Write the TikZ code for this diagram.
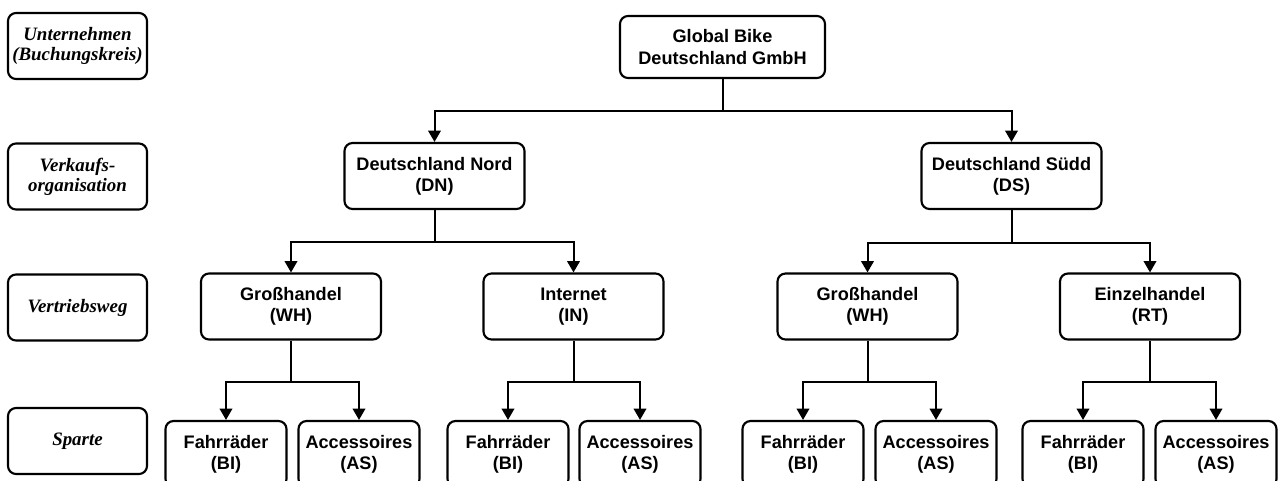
\documentclass[tikz,border=0pt]{standalone}
\usepackage{fontspec}
\setmainfont{Liberation Serif}
\setsansfont{Liberation Sans}
\usetikzlibrary{arrows.meta}
\begin{document}
\begin{tikzpicture}[x=0.75pt,y=-0.75pt,
  box/.style={draw=black,line width=1.6pt,rounded corners=6pt,inner sep=0pt,align=center,
    font=\sffamily\bfseries\fontsize{13.6}{16}\selectfont},
  lvl/.style={draw=black,line width=1.6pt,rounded corners=6pt,inner sep=0pt,align=center,
    minimum width=104.25pt,minimum height=49.5pt,
    font=\rmfamily\bfseries\itshape\fontsize{14.2}{15}\selectfont},
  mid/.style={box,minimum width=135pt,minimum height=49.5pt},
  leaf/.style={box,minimum width=90.75pt,minimum height=49.5pt},
  conn/.style={line width=1.5pt},
  arr/.style={conn,-{Triangle[width=9.4pt,length=8.5pt]}}]
\useasboundingbox (0,0) rectangle (1279,480);
\fill[white] (0,0) rectangle (1279,480);
\clip (0,0) rectangle (1279,480);
% level labels
\node[lvl] (L1) at (77.5,46) {Unternehmen\\(Buchungskreis)};
\node[lvl] (L2) at (77.5,176.5) {Verkaufs-\\organisation};
\node[lvl] (L3) at (77.5,307.5) {Vertriebsweg};
\node[lvl] (L4) at (77.5,441) {Sparte};
% company
\node[box,minimum width=153.75pt,minimum height=46.5pt] (G) at (722.5,47) {Global Bike\\Deutschland GmbH};
% sales organisations
\node[mid] (DN) at (434.5,176) {Deutschland Nord\\(DN)};
\node[mid] (DS) at (1011.5,176) {Deutschland Südd\\(DS)};
% distribution channels
\node[mid] (WH1) at (291,306.5) {Großhandel\\(WH)};
\node[mid] (IN) at (573.5,306.5) {Internet\\(IN)};
\node[mid] (WH2) at (867.5,306.5) {Großhandel\\(WH)};
\node[mid] (RT) at (1150,306.5) {Einzelhandel\\(RT)};
% divisions
\node[leaf] (F1) at (226,454) {Fahrräder\\(BI)};
\node[leaf] (A1) at (359,454) {Accessoires\\(AS)};
\node[leaf] (F2) at (508,454) {Fahrräder\\(BI)};
\node[leaf] (A2) at (640,454) {Accessoires\\(AS)};
\node[leaf] (F3) at (803,454) {Fahrräder\\(BI)};
\node[leaf] (A3) at (936,454) {Accessoires\\(AS)};
\node[leaf] (F4) at (1083,454) {Fahrräder\\(BI)};
\node[leaf] (A4) at (1216,454) {Accessoires\\(AS)};
% junctions
\coordinate (jG) at (722.5,111);
\coordinate (jDN) at (434.5,242);
\coordinate (jDS) at (1011.5,243);
\coordinate (jW1) at (291,382);
\coordinate (jIN) at (573.5,382);
\coordinate (jW2) at (867.5,382);
\coordinate (jRT) at (1150,382);
% connectors
\draw[conn] (G) -- (jG);
\draw[arr] (jG) -| (DN);
\draw[arr] (jG) -| (DS);
\draw[conn] (DN) -- (jDN);
\draw[arr] (jDN) -| (WH1);
\draw[arr] (jDN) -| (IN);
\draw[conn] (DS) -- (jDS);
\draw[arr] (jDS) -| (WH2);
\draw[arr] (jDS) -| (RT);
\draw[conn] (WH1) -- (jW1);
\draw[arr] (jW1) -| (F1);
\draw[arr] (jW1) -| (A1);
\draw[conn] (IN) -- (jIN);
\draw[arr] (jIN) -| (F2);
\draw[arr] (jIN) -| (A2);
\draw[conn] (WH2) -- (jW2);
\draw[arr] (jW2) -| (F3);
\draw[arr] (jW2) -| (A3);
\draw[conn] (RT) -- (jRT);
\draw[arr] (jRT) -| (F4);
\draw[arr] (jRT) -| (A4);
\end{tikzpicture}
\end{document}
